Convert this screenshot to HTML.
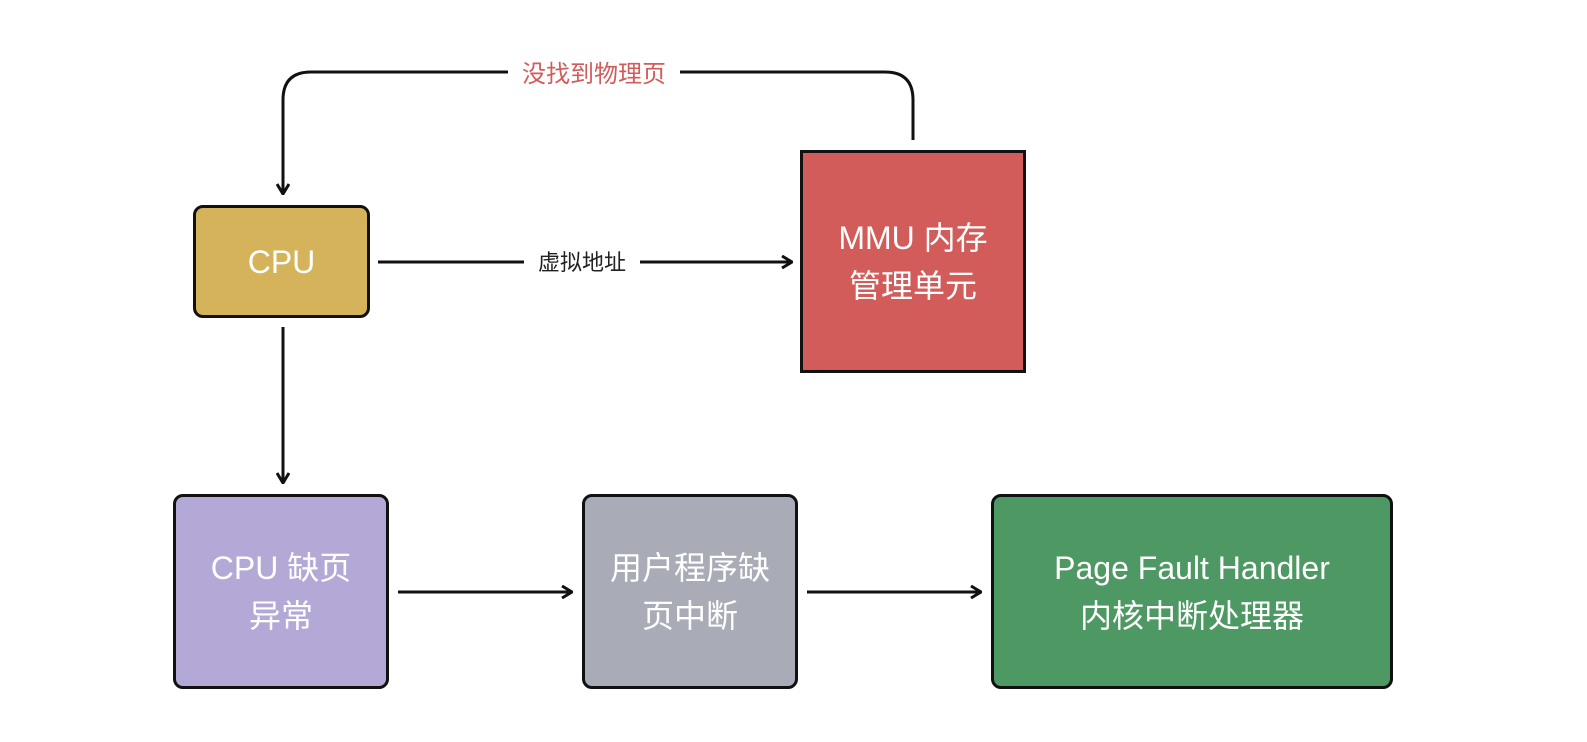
<!DOCTYPE html>
<html><head><meta charset="utf-8"><style>
body{margin:0;width:1587px;height:742px;background:#fff;overflow:hidden;position:relative;font-family:"Liberation Sans","Noto Sans CJK SC",sans-serif}
.b{position:absolute;box-sizing:border-box;border:3px solid #111;color:#fff;display:flex;align-items:center;justify-content:center;text-align:center;font-size:32px;line-height:48px}
.l{position:absolute;font-size:24px;background:#fff;padding:0 14px;line-height:30px}
</style></head><body>
<svg width="1587" height="742" style="position:absolute;left:0;top:0">
<defs><marker id="a" markerWidth="12" markerHeight="14" refX="11" refY="7" orient="auto" markerUnits="userSpaceOnUse"><path d="M1 1 L11 7 L1 13" fill="none" stroke="#111" stroke-width="3"/></marker></defs>
<g fill="none" stroke="#111" stroke-width="3">
<path d="M913 140 V100 Q913 72 885 72 H311 Q283 72 283 100 V194" marker-end="url(#a)"/>
<path d="M378 262 H792" marker-end="url(#a)"/>
<path d="M283 327 V483" marker-end="url(#a)"/>
<path d="M398 592 H572" marker-end="url(#a)"/>
<path d="M807 592 H981" marker-end="url(#a)"/>
</g></svg>
<div class="l" style="left:508px;top:60px;color:#d25c5a">没找到物理页</div>
<div class="l" style="left:524px;top:248px;color:#222;font-size:22px">虚拟地址</div>
<div class="b" style="left:193px;top:205px;width:177px;height:113px;background:#d4b35a;border-radius:10px">CPU</div>
<div class="b" style="left:800px;top:150px;width:226px;height:223px;background:#d25c5a">MMU 内存<br>管理单元</div>
<div class="b" style="left:173px;top:494px;width:216px;height:195px;background:#b4a9d6;border-radius:10px">CPU 缺页<br>异常</div>
<div class="b" style="left:582px;top:494px;width:216px;height:195px;background:#a9abb6;border-radius:10px">用户程序缺<br>页中断</div>
<div class="b" style="left:991px;top:494px;width:402px;height:195px;background:#4e9863;border-radius:10px">Page Fault Handler<br>内核中断处理器</div>
</body></html>
